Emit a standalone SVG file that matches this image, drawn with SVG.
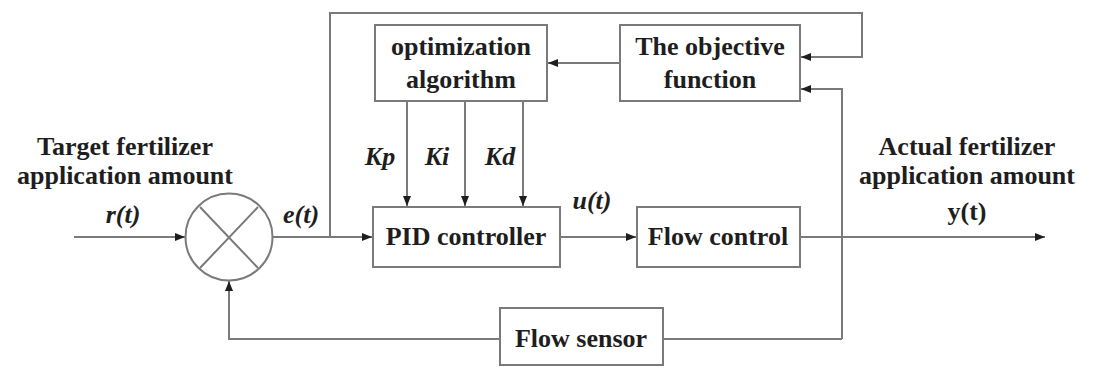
<svg xmlns="http://www.w3.org/2000/svg" width="1094" height="367" viewBox="0 0 1094 367">
<style>
.box{fill:#fff;stroke:#7a7a7a;stroke-width:2}
.ln{fill:none;stroke:#7a7a7a;stroke-width:2}
.t{font-weight:bold;font-size:26px;fill:#1e1e1e;text-anchor:middle}
.i{font-style:italic}
</style>
<defs>
<marker id="ah" viewBox="0 0 10 10" refX="10" refY="5" markerWidth="10" markerHeight="10" markerUnits="userSpaceOnUse" orient="auto">
<path d="M0,1 L10,5 L0,9 Z" fill="#1e1e1e"/>
</marker>
</defs>
<rect width="1094" height="367" fill="#fff"/>
<g id="connectors">
<path class="ln" d="M74,237 H185" marker-end="url(#ah)"/>
<path class="ln" d="M273,237 H372" marker-end="url(#ah)"/>
<path class="ln" d="M330,237 V13 H862 V57 H801" marker-end="url(#ah)"/>
<path class="ln" d="M620,63 H548" marker-end="url(#ah)"/>
<path class="ln" d="M407,101 V206" marker-end="url(#ah)"/>
<path class="ln" d="M465,101 V206" marker-end="url(#ah)"/>
<path class="ln" d="M523,101 V206" marker-end="url(#ah)"/>
<path class="ln" d="M560,237 H636" marker-end="url(#ah)"/>
<path class="ln" d="M800,237 H1045" marker-end="url(#ah)"/>
<path class="ln" d="M842,339 V89 H801" marker-end="url(#ah)"/>
<path class="ln" d="M842,339 H663"/>
<path class="ln" d="M500,339 H229 V281" marker-end="url(#ah)"/>
</g>
<g id="sum">
<circle class="box" cx="229" cy="237" r="43.5"/>
<path class="ln" d="M200,207 L258,268 M258,207 L200,268"/>
</g>
<g font-family="Liberation Serif, Times New Roman, serif">
<g id="opt">
<rect class="box" x="375" y="25" width="172" height="76"/>
<text class="t" x="461" y="55">optimization</text>
<text class="t" x="461" y="88">algorithm</text>
</g>
<g id="obj">
<rect class="box" x="620" y="25" width="180" height="76"/>
<text class="t" x="710" y="55">The objective</text>
<text class="t" x="710" y="88">function</text>
</g>
<g id="pid">
<rect class="box" x="373" y="207" width="187" height="60"/>
<text class="t" x="466" y="245">PID controller</text>
</g>
<g id="flowcontrol">
<rect class="box" x="637" y="207" width="163" height="60"/>
<text class="t" x="718" y="245">Flow control</text>
</g>
<g id="flowsensor">
<rect class="box" x="500" y="308" width="163" height="57"/>
<text class="t" x="581" y="347">Flow sensor</text>
</g>
<g id="labels">
<text class="t" x="125" y="155">Target fertilizer</text>
<text class="t" x="125" y="184">application amount</text>
<text class="t i" x="123" y="223">r(t)</text>
<text class="t i" x="301" y="223">e(t)</text>
<text class="t i" x="592" y="209">u(t)</text>
<text class="t i" x="380" y="165">Kp</text>
<text class="t i" x="437" y="165">Ki</text>
<text class="t i" x="500" y="165">Kd</text>
<text class="t" x="967" y="155">Actual fertilizer</text>
<text class="t" x="967" y="184">application amount</text>
<text class="t" x="967" y="220">y(t)</text>
</g>
</g>
</svg>
